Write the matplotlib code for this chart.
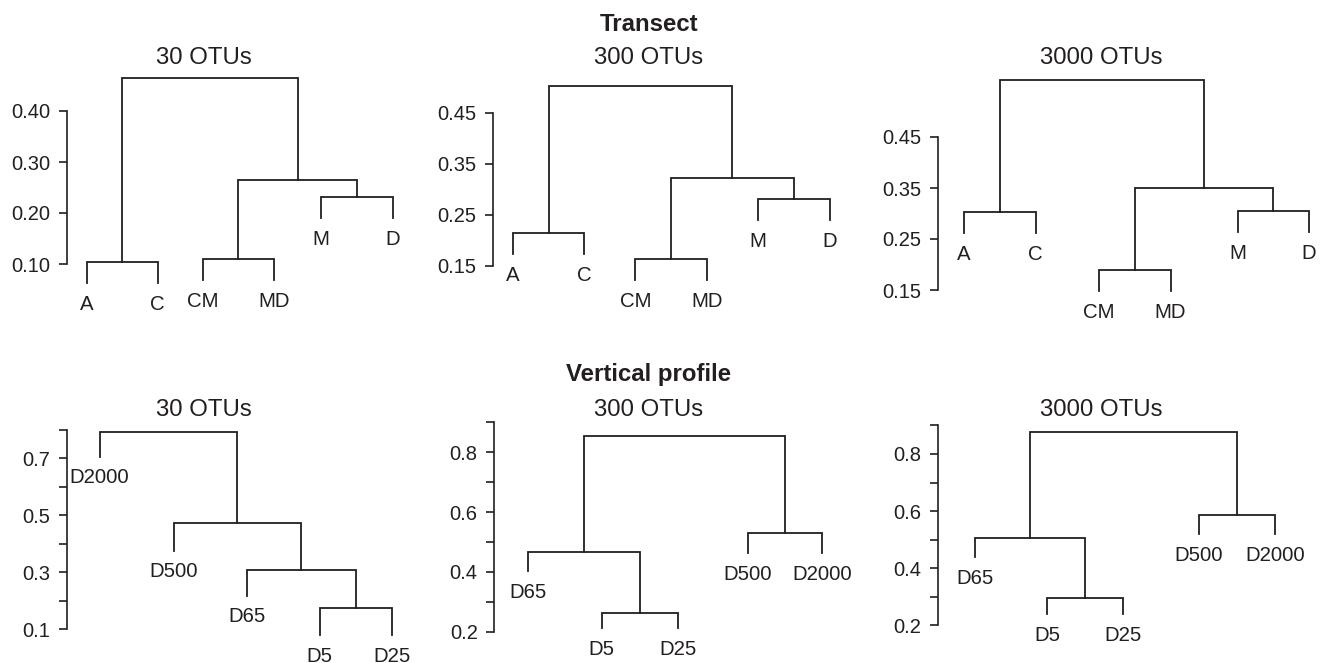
import matplotlib
matplotlib.use('Agg')
import matplotlib.pyplot as plt

plt.rcParams['font.family'] = ['Liberation Sans', 'DejaVu Sans']
INK = '#231f20'
W, H = 1321, 663

# ---- data (merge = left child, right child, height; children >= n are earlier merges) ----
transect_labels = ['A', 'C', 'CM', 'MD', 'M', 'D']

t30_x = [0.28, 1.27, 1.90, 2.89, 3.55, 4.55]
t30_leaf_h = [0.063, 0.063, 0.069, 0.069, 0.190, 0.190]
t30_merge = [(0, 1, 0.104), (2, 3, 0.110), (4, 5, 0.231), (7, 8, 0.265), (6, 9, 0.465)]

t300_x = [0.27, 1.27, 1.98, 2.98, 3.69, 4.69]
t300_leaf_h = [0.174, 0.174, 0.123, 0.123, 0.240, 0.240]
t300_merge = [(0, 1, 0.215), (2, 3, 0.164), (4, 5, 0.281), (7, 8, 0.323), (6, 9, 0.503)]

t3000_x = [0.36, 1.36, 2.24, 3.24, 4.18, 5.17]
t3000_leaf_h = [0.262, 0.262, 0.148, 0.148, 0.264, 0.264]
t3000_merge = [(0, 1, 0.303), (2, 3, 0.189), (4, 5, 0.305), (7, 8, 0.350), (6, 9, 0.562)]

v30_labels = ['D2000', 'D500', 'D65', 'D5', 'D25']
v30_x = [0.46, 1.49, 2.51, 3.53, 4.53]
v30_leaf_h = [0.706, 0.376, 0.218, 0.080, 0.080]
v30_merge = [(3, 4, 0.174), (2, 5, 0.309), (1, 6, 0.474), (0, 7, 0.793)]

v_labels = ['D65', 'D5', 'D25', 'D500', 'D2000']
v300_x = [0.47, 1.50, 2.56, 3.54, 4.57]
v300_leaf_h = [0.404, 0.213, 0.213, 0.464, 0.464]
v300_merge = [(1, 2, 0.262), (0, 5, 0.468), (3, 4, 0.529), (6, 7, 0.855)]

v3000_x = [0.52, 1.53, 2.59, 3.64, 4.70]
v3000_leaf_h = [0.440, 0.240, 0.240, 0.519, 0.519]
v3000_merge = [(1, 2, 0.295), (0, 5, 0.507), (3, 4, 0.586), (6, 7, 0.878)]

top_ticks_30 = [0.10, 0.20, 0.30, 0.40]
top_ticks = [0.15, 0.25, 0.35, 0.45]
v30_ticks = [0.1, 0.3, 0.5, 0.7]
v30_minor = [0.2, 0.4, 0.6, 0.8]
v_ticks = [0.2, 0.4, 0.6, 0.8]
v_minor = [0.3, 0.5, 0.7, 0.9]

fig = plt.figure(figsize=(W / 100, H / 100), dpi=100)

UNIT = 71.7  # px per leaf step


def panel(spine_x, ref_val, ref_px, ppu, labels, xs, leaf_h, merges, ticks, minor, fmt):
    lo, hi = -0.2, 1.0
    width = 380
    top_px = ref_px - (hi - ref_val) * ppu
    bot_px = ref_px + (ref_val - lo) * ppu
    ax = fig.add_axes([spine_x / W, 1 - bot_px / H, width / W, (bot_px - top_px) / H])
    ax.set_ylim(lo, hi)
    ax.set_xlim(0, width / UNIT)
    ax.patch.set_visible(False)
    for s in ['top', 'right', 'bottom']:
        ax.spines[s].set_visible(False)
    allt = sorted(ticks + minor)
    ax.spines['left'].set_bounds(allt[0], allt[-1])
    ax.spines['left'].set_linewidth(1.2)
    ax.spines['left'].set_color(INK)
    ax.set_xticks([])
    ax.set_yticks(ticks, [fmt % t for t in ticks])
    if minor:
        ax.set_yticks(minor, minor=True)
    ax.tick_params(axis='y', which='both', length=5.5, width=1.2, color=INK,
                   labelcolor=INK, labelsize=14.5, pad=6.5)

    n = len(labels)
    nx = list(xs)
    nh = list(leaf_h)
    for a, b, h in merges:
        ax.plot([nx[a], nx[a], nx[b], nx[b]], [nh[a], h, h, nh[b]],
                color=INK, lw=1.3, clip_on=False, solid_joinstyle='miter')
        nx.append((nx[a] + nx[b]) / 2)
        nh.append(h)
    for i in range(n):
        ax.annotate(labels[i], (xs[i], leaf_h[i]), xytext=(0, -8.5),
                    textcoords='offset points', ha='center', va='top',
                    fontsize=14.7, color=INK, annotation_clip=False)
    return ax


panel(66.7, 0.10, 264, 510, transect_labels, t30_x, t30_leaf_h, t30_merge, top_ticks_30, [], '%.2f')
panel(493.3, 0.15, 266, 510, transect_labels, t300_x, t300_leaf_h, t300_merge, top_ticks, [], '%.2f')
panel(938.3, 0.15, 290, 510, transect_labels, t3000_x, t3000_leaf_h, t3000_merge, top_ticks, [], '%.2f')
panel(66.7, 0.1, 629.3, 285, v30_labels, v30_x, v30_leaf_h, v30_merge, v30_ticks, v30_minor, '%.1f')
panel(494.3, 0.2, 631.7, 299, v_labels, v300_x, v300_leaf_h, v300_merge, v_ticks, v_minor, '%.1f')
panel(937.7, 0.2, 625.3, 285.5, v_labels, v3000_x, v3000_leaf_h, v3000_merge, v_ticks, v_minor, '%.1f')


def ftext(x, y, s, **kw):
    fig.text(x / W, 1 - y / H, s, ha='center', va='baseline', color=INK, **kw)


ftext(648.8, 30.7, 'Transect', fontsize=17.3, fontweight='bold')
ftext(648.7, 380.7, 'Vertical profile', fontsize=17.3, fontweight='bold')
for x, s in [(204, '30 OTUs'), (648.3, '300 OTUs'), (1101.7, '3000 OTUs')]:
    ftext(x, 64, s, fontsize=17.3)
    ftext(x, 415.7, s, fontsize=17.3)

fig.savefig('out.png', dpi=100)
